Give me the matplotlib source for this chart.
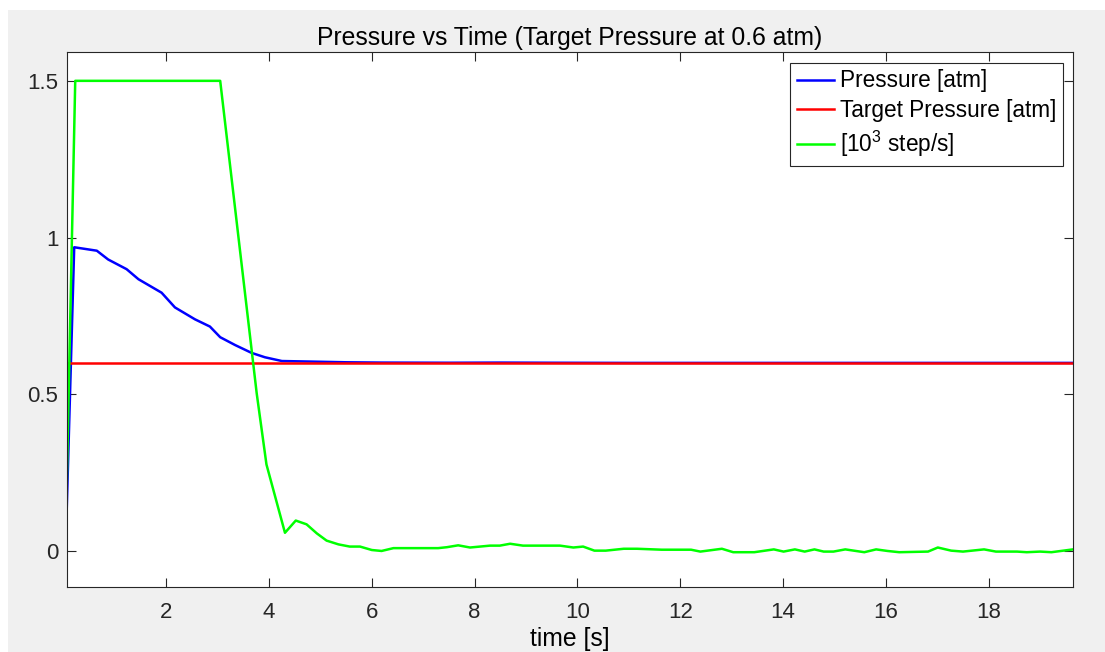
import matplotlib
matplotlib.use("Agg")
import matplotlib.pyplot as plt
from matplotlib.patches import Rectangle

# ---- data ----
time_pressure = [0.064, 0.21, 0.65, 0.87, 1.23, 1.46, 1.91, 2.17, 2.56, 2.85,
                 3.05, 3.34, 3.66, 3.92, 4.25, 4.89, 5.5, 6.2, 7.5, 8.5,
                 9.5, 11.0, 13.0, 15.0, 17.0, 19.64]
pressure = [0.13, 0.969, 0.958, 0.93, 0.899, 0.867, 0.824, 0.777, 0.739, 0.716,
            0.682, 0.657, 0.632, 0.618, 0.606, 0.604, 0.602, 0.601, 0.6005, 0.601,
            0.6005, 0.600, 0.600, 0.600, 0.600, 0.600]

time_target = [0.064, 19.64]
target_pressure = [0.6, 0.6]

time_speed = [0.064, 0.23, 3.05, 3.76, 3.95, 4.31, 4.52, 4.73, 4.93, 5.12,
              5.35, 5.57, 5.77, 6.0, 6.19, 6.42, 7.29, 7.46, 7.68, 7.91,
              8.3, 8.49, 8.69, 8.94, 9.66, 9.92, 10.11, 10.33, 10.55, 10.9,
              11.16, 11.64, 12.21, 12.39, 12.81, 13.03, 13.44, 13.82, 14.01, 14.23,
              14.42, 14.61, 14.79, 14.98, 15.21, 15.58, 15.81, 16.03, 16.26, 16.82,
              17.01, 17.27, 17.5, 17.91, 18.14, 18.55, 18.74, 19.0, 19.22, 19.64]
speed = [0.205, 1.5, 1.5, 0.503, 0.276, 0.058, 0.097, 0.085, 0.056, 0.033,
         0.021, 0.014, 0.014, 0.003, 0.0, 0.009, 0.009, 0.012, 0.018, 0.011,
         0.017, 0.017, 0.023, 0.017, 0.017, 0.011, 0.014, 0.001, 0.001, 0.007,
         0.007, 0.004, 0.004, -0.002, 0.007, -0.004, -0.004, 0.005, -0.002, 0.005,
         -0.002, 0.005, -0.002, -0.002, 0.005, -0.004, 0.005, 0.0, -0.004, -0.002,
         0.011, 0.001, -0.002, 0.005, -0.002, -0.002, -0.004, -0.002, -0.004, 0.005]

x_ticks = [2, 4, 6, 8, 10, 12, 14, 16, 18]
x_tick_labels = ["2", "4", "6", "8", "10", "12", "14", "16", "18"]
y_ticks = [0, 0.5, 1, 1.5]
y_tick_labels = ["0", "0.5", "1", "1.5"]

series_labels = ["Pressure [atm]", "Target Pressure [atm]", r"[10$^3$ step/s]"]

# ---- style ----
plt.rcParams["font.family"] = ["Liberation Sans", "DejaVu Sans"]
plt.rcParams["mathtext.fontset"] = "custom"
plt.rcParams["mathtext.rm"] = "Liberation Sans"
plt.rcParams["mathtext.it"] = "Liberation Sans"
plt.rcParams["mathtext.bf"] = "Liberation Sans"

AX_COLOR = "#262626"
FIG_W, FIG_H = 1105, 652
DPI = 100

fig = plt.figure(figsize=(FIG_W / DPI, FIG_H / DPI), dpi=DPI, facecolor="white")
# grey window area
fig.patches.append(Rectangle((8 / FIG_W, 0), 1 - 8 / FIG_W, 1 - 10 / FIG_H,
                             transform=fig.transFigure, facecolor="#f0f0f0",
                             edgecolor="none", zorder=-10))

ax_left, ax_right = 66.7 / FIG_W, 1073 / FIG_W
ax_top, ax_bottom = 1 - 52 / FIG_H, 1 - 587 / FIG_H
ax = fig.add_axes([ax_left, ax_bottom, ax_right - ax_left, ax_top - ax_bottom])
ax.set_facecolor("white")

lw = 1.8
ax.plot(time_pressure, pressure, color="#0000ff", lw=lw, label=series_labels[0],
        solid_joinstyle="round")
ax.plot(time_target, target_pressure, color="#ff0000", lw=lw, label=series_labels[1])
ax.plot(time_speed, speed, color="#00ff00", lw=lw, label=series_labels[2],
        solid_joinstyle="round")

ax.set_xlim(0.064, 19.64)
ax.set_ylim(-0.115, 1.592)

ax.set_xticks(x_ticks)
ax.set_xticklabels(x_tick_labels)
ax.set_yticks(y_ticks)
ax.set_yticklabels(y_tick_labels)

ax.tick_params(axis="both", which="both", direction="in", length=6.8, width=0.8,
               color=AX_COLOR, labelcolor=AX_COLOR, labelsize=16,
               top=True, right=True)
ax.tick_params(axis="x", pad=11)
ax.tick_params(axis="y", pad=6)
for sp in ax.spines.values():
    sp.set_color(AX_COLOR)
    sp.set_linewidth(0.8)

ax.set_title("Pressure vs Time (Target Pressure at 0.6 atm)", fontsize=17.8,
             color="black", pad=5)
ax.set_xlabel("time [s]", fontsize=17.8, color="black", labelpad=3)

leg_x = (1062.7 - 66.7) / (1073 - 66.7)
leg_y = (587 - 62.7) / (587 - 52)
leg = ax.legend(loc="upper right", bbox_to_anchor=(leg_x, leg_y),
                borderaxespad=0, fontsize=16.3, handlelength=1.62,
                handletextpad=0.25, borderpad=0.3, labelspacing=0.3,
                fancybox=False, framealpha=1, edgecolor=AX_COLOR)
leg.get_frame().set_linewidth(0.8)

fig.savefig("out.png", dpi=DPI, facecolor=fig.get_facecolor())
